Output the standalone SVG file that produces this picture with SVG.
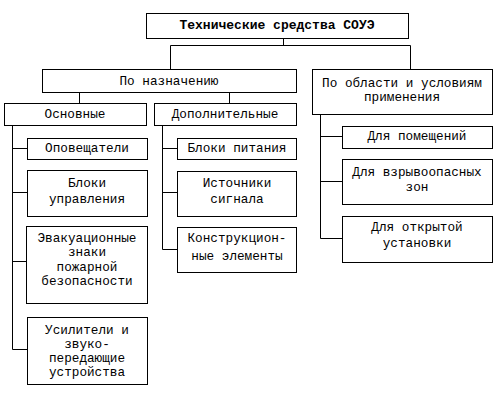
<svg xmlns="http://www.w3.org/2000/svg" width="500" height="400" viewBox="0 0 500 400">
<style>
rect{fill:#fff;stroke:#000;stroke-width:1}
text{font-family:'Liberation Mono','DejaVu Sans Mono',monospace;font-size:12.7px;fill:#000;text-anchor:middle;dominant-baseline:central}
.t{font-weight:bold;font-size:13px}
#connectors path{fill:none;stroke:#000;stroke-width:1}
</style>
<rect width="500" height="400" style="fill:#fff;stroke:none"/>
<g id="connectors">
<path d="M283.5 38V45.5M170.5 45.5H410.5M170.5 45.5V69M410.5 45.5V69"/>
<path d="M79.5 92V103M229.5 92V103"/>
<path d="M12.5 125V349.5M12.5 148.5H27M12.5 192.5H27M12.5 261.5H27M12.5 349.5H27"/>
<path d="M162.5 125V249.5M162.5 148.5H177M162.5 192.5H177M162.5 249.5H177"/>
<path d="M320.5 114V238.5M320.5 136.5H342M320.5 181.5H342M320.5 238.5H342"/>
</g>
<g id="root"><rect x="146.5" y="13.5" width="262" height="25"/><text class="t" x="277" y="25.5">Технические средства СОУЭ</text></g>
<g id="purpose"><rect x="42.5" y="69.5" width="254" height="23"/><text x="169" y="81">По назначению</text></g>
<g id="area"><rect x="312.5" y="69.5" width="180" height="45"/><text x="402" y="83">По области и условиям</text><text x="402" y="97">применения</text></g>
<g id="main"><rect x="4.5" y="103.5" width="142" height="22"/><text x="75" y="114">Основные</text></g>
<g id="extra"><rect x="154.5" y="103.5" width="142" height="22"/><text x="225" y="114">Дополнительные</text></g>
<g id="n1"><rect x="27.5" y="138.5" width="120" height="21"/><text x="87" y="148.5">Оповещатели</text></g>
<g id="n2"><rect x="27.5" y="170.5" width="120" height="46"/><text x="87" y="183">Блоки</text><text x="87" y="199">управления</text></g>
<g id="n3"><rect x="26.5" y="226.5" width="121" height="77"/><text x="87" y="238">Эвакуационные</text><text x="87" y="252.5">знаки</text><text x="87" y="267">пожарной</text><text x="87" y="281.5">безопасности</text></g>
<g id="n4"><rect x="27.5" y="317.5" width="120" height="67"/><text x="87" y="330">Усилители и</text><text x="87" y="344">звуко-</text><text x="87" y="358">передающие</text><text x="87" y="372">устройства</text></g>
<g id="d1"><rect x="177.5" y="138.5" width="119" height="21"/><text x="237" y="148.5">Блоки питания</text></g>
<g id="d2"><rect x="177.5" y="171.5" width="119" height="45"/><text x="237" y="183">Источники</text><text x="237" y="199">сигнала</text></g>
<g id="d3"><rect x="177.5" y="227.5" width="119" height="45"/><text x="237" y="238.5">Конструкцион-</text><text x="237" y="256">ные элементы</text></g>
<g id="a1"><rect x="342.5" y="126.5" width="150" height="22"/><text x="417" y="136.5">Для помещений</text></g>
<g id="a2"><rect x="342.5" y="159.5" width="150" height="45"/><text x="417" y="172">Для взрывоопасных</text><text x="417" y="187.5">зон</text></g>
<g id="a3"><rect x="342.5" y="216.5" width="150" height="46"/><text x="417" y="227.5">Для открытой</text><text x="417" y="243">установки</text></g>
</svg>
